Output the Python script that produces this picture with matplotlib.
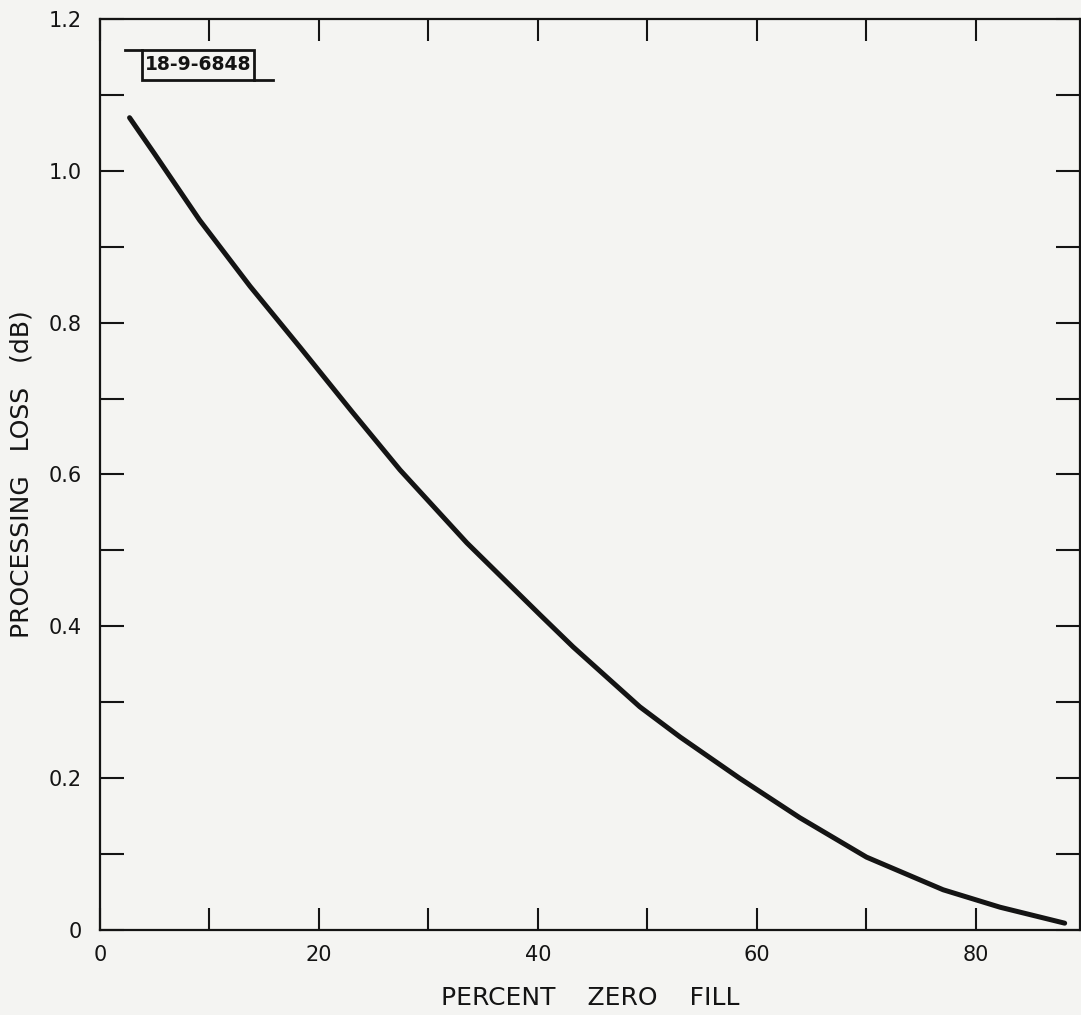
import matplotlib
matplotlib.use('Agg')
import matplotlib.pyplot as plt
from matplotlib.lines import Line2D
from matplotlib.patches import Rectangle

# Data
zero_fill = [2.7, 5.0, 9.1, 13.7, 18.3, 23.0, 27.4, 33.5, 40.2, 43.2, 49.3, 53.0, 58.4, 63.9, 70.0, 77.0, 82.2, 88.1]
loss = [1.070, 1.022, 0.935, 0.848, 0.767, 0.683, 0.606, 0.510, 0.415, 0.373, 0.294, 0.254, 0.200, 0.148, 0.096, 0.053, 0.030, 0.009]

xticks_major = [0, 20, 40, 60, 80]
xticks_minor = [10, 30, 50, 70]
yticks_major = [0, 0.2, 0.4, 0.6, 0.8, 1.0, 1.2]
ytick_labels = ['0', '0.2', '0.4', '0.6', '0.8', '1.0', '1.2']
yticks_minor = [0.1, 0.3, 0.5, 0.7, 0.9, 1.1]

W, H = 1081, 1015
bg = '#f4f4f2'
ink = '#141414'

plt.rcParams['font.family'] = 'DejaVu Sans'

fig = plt.figure(figsize=(W / 100, H / 100), dpi=100, facecolor=bg)
ax = fig.add_axes([100 / W, 1 - 930 / H, 980 / W, 911 / H], facecolor=bg)

ax.plot(zero_fill, loss, color=ink, lw=3.6, solid_capstyle='round', solid_joinstyle='round')

ax.set_xlim(0, 89.5)
ax.set_ylim(0, 1.2)

ax.set_xticks(xticks_major)
ax.set_xticks(xticks_minor, minor=True)
ax.set_yticks(yticks_major)
ax.set_yticklabels(ytick_labels)
ax.set_yticks(yticks_minor, minor=True)

for which in ['major', 'minor']:
    ax.tick_params(axis='x', which=which, direction='in', length=16, width=1.5,
                   colors=ink, top=True)
    ax.tick_params(axis='y', which=which, direction='in', length=17.5, width=1.5,
                   colors=ink, right=True)
ax.tick_params(axis='x', which='major', labelsize=15, pad=11)
ax.tick_params(axis='y', which='major', labelsize=15, pad=13)

for s in ax.spines.values():
    s.set_linewidth(1.6)
    s.set_color(ink)

ax.set_xlabel('PERCENT    ZERO    FILL', fontsize=18, color=ink, labelpad=15)
ax.set_ylabel('PROCESSING   LOSS   (dB)', fontsize=18, color=ink, labelpad=11)

# Stamp box "18-9-6848" with its extended lines (figure coordinates)
def fx(px):
    return px / W

def fy(py):
    return 1 - py / H

fig.add_artist(Rectangle((fx(142), fy(80)), fx(254) - fx(142), fy(50) - fy(80),
                         transform=fig.transFigure, fill=False, ec=ink, lw=2.0))
fig.add_artist(Line2D([fx(125), fx(142)], [fy(50), fy(50)], transform=fig.transFigure, color=ink, lw=2.0))
fig.add_artist(Line2D([fx(254), fx(273)], [fy(80), fy(80)], transform=fig.transFigure, color=ink, lw=2.0))
fig.text(fx(198), fy(65), '18-9-6848', ha='center', va='center', fontsize=13.5,
         fontweight='bold', color=ink)

fig.savefig('out.png', dpi=100, facecolor=bg)
